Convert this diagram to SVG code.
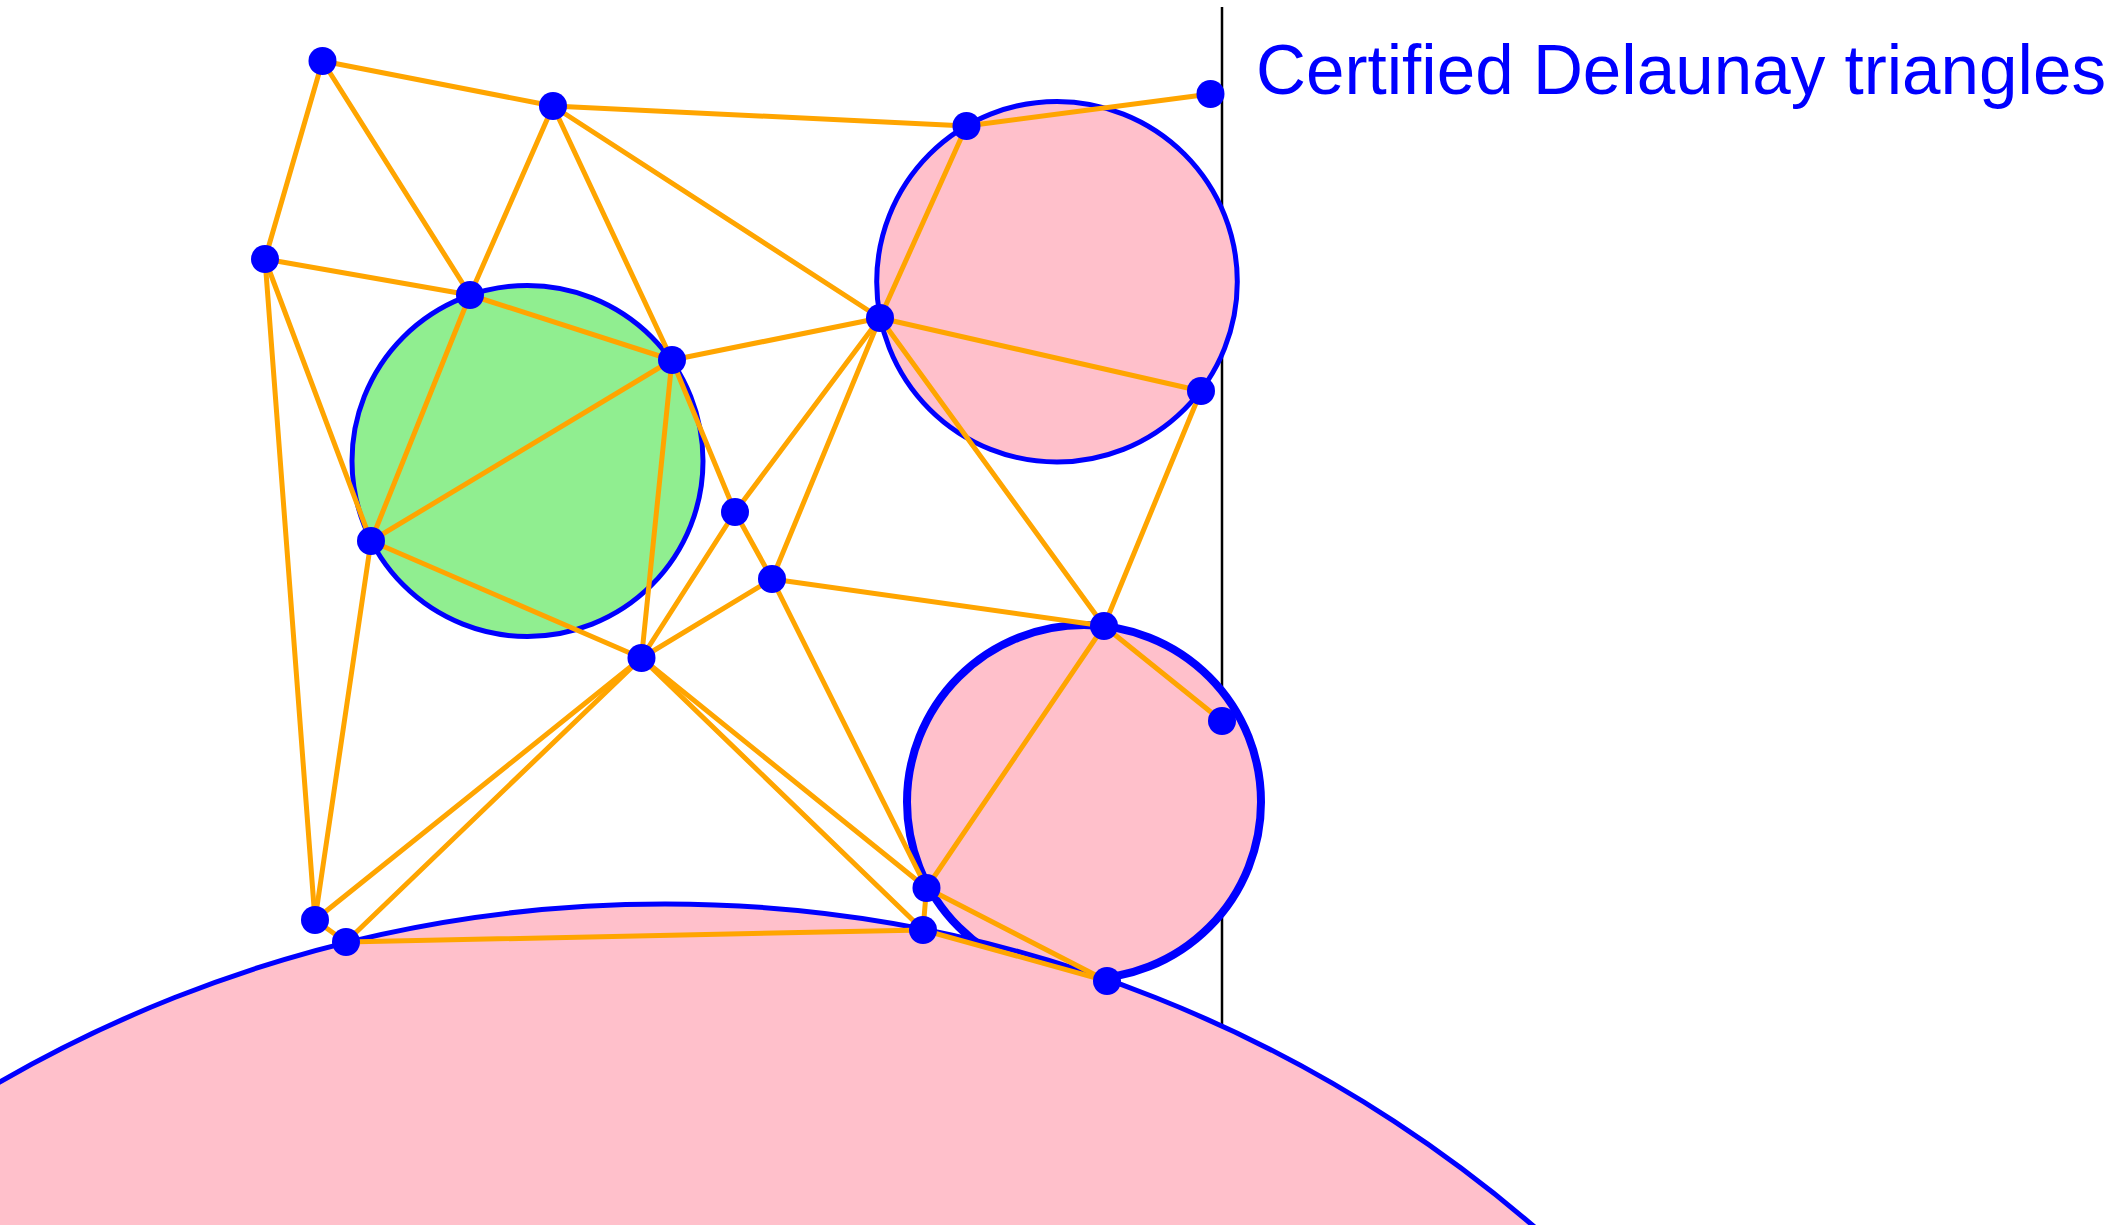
<svg xmlns="http://www.w3.org/2000/svg" width="2121" height="1225" viewBox="0 0 2121 1225">
<style>
.circ{stroke:#0000FF;stroke-width:5}
.thick{stroke-width:8}
.e line{stroke:#FFA500;stroke-width:5;stroke-linecap:round}
.pt{fill:#0000FF}
.lbl{font-family:"Liberation Sans",Arial,sans-serif;font-size:70px;fill:#0000FF}
</style>
<rect width="2121" height="1225" fill="#FFFFFF"/>
<line x1="1222" y1="7" x2="1222" y2="1225" stroke="#000000" stroke-width="2.5"/>
<g id="circles">
<circle id="green" class="circ" cx="527.5" cy="461" r="175.5" fill="#90EE90"/>
<circle id="pinkTR" class="circ" cx="1057" cy="281.7" r="180.3" fill="#FFC0CB"/>
<circle id="pinkBR" class="circ thick" cx="1084" cy="802" r="177" fill="#FFC0CB"/>
<circle id="pinkBig" class="circ" cx="665" cy="2236" r="1332" fill="#FFC0CB"/>
</g>
<g id="connectors" class="e">
<line x1="322.5" y1="61" x2="553" y2="106"/>
<line x1="322.5" y1="61" x2="265" y2="259"/>
<line x1="322.5" y1="61" x2="470" y2="295"/>
<line x1="553" y1="106" x2="470" y2="295"/>
<line x1="553" y1="106" x2="672" y2="360"/>
<line x1="553" y1="106" x2="880" y2="318"/>
<line x1="553" y1="106" x2="966.5" y2="126"/>
<line x1="966.5" y1="126" x2="1210.5" y2="94"/>
<line x1="966.5" y1="126" x2="880" y2="318"/>
<line x1="265" y1="259" x2="470" y2="295"/>
<line x1="265" y1="259" x2="371" y2="541"/>
<line x1="265" y1="259" x2="315" y2="920"/>
<line x1="470" y1="295" x2="672" y2="360"/>
<line x1="470" y1="295" x2="371" y2="541"/>
<line x1="672" y1="360" x2="880" y2="318"/>
<line x1="672" y1="360" x2="371" y2="541"/>
<line x1="672" y1="360" x2="641.5" y2="658"/>
<line x1="672" y1="360" x2="735" y2="512"/>
<line x1="880" y1="318" x2="1201" y2="391"/>
<line x1="880" y1="318" x2="735" y2="512"/>
<line x1="880" y1="318" x2="772" y2="579"/>
<line x1="880" y1="318" x2="1104" y2="626"/>
<line x1="1201" y1="391" x2="1104" y2="626"/>
<line x1="371" y1="541" x2="641.5" y2="658"/>
<line x1="371" y1="541" x2="315" y2="920"/>
<line x1="735" y1="512" x2="772" y2="579"/>
<line x1="735" y1="512" x2="641.5" y2="658"/>
<line x1="772" y1="579" x2="641.5" y2="658"/>
<line x1="772" y1="579" x2="1104" y2="626"/>
<line x1="772" y1="579" x2="926.5" y2="888"/>
<line x1="641.5" y1="658" x2="315" y2="920"/>
<line x1="641.5" y1="658" x2="346" y2="942"/>
<line x1="641.5" y1="658" x2="926.5" y2="888"/>
<line x1="641.5" y1="658" x2="923" y2="930"/>
<line x1="1104" y1="626" x2="1222" y2="721"/>
<line x1="1104" y1="626" x2="926.5" y2="888"/>
<line x1="926.5" y1="888" x2="1107" y2="981"/>
<line x1="926.5" y1="888" x2="923" y2="930"/>
<line x1="923" y1="930" x2="1107" y2="981"/>
<line x1="346" y1="942" x2="923" y2="930"/>
<line x1="315" y1="920" x2="346" y2="942"/>
</g>
<g id="nodeA"><circle class="pt" cx="322.5" cy="61" r="14"/></g>
<g id="nodeB"><circle class="pt" cx="553" cy="106" r="14"/></g>
<g id="nodeC"><circle class="pt" cx="265" cy="259" r="14"/></g>
<g id="nodeD"><circle class="pt" cx="470" cy="295" r="14"/></g>
<g id="nodeE"><circle class="pt" cx="672" cy="360" r="14"/></g>
<g id="nodeF"><circle class="pt" cx="966.5" cy="126" r="14"/></g>
<g id="nodeG"><circle class="pt" cx="1210.5" cy="94" r="14"/></g>
<g id="nodeH"><circle class="pt" cx="880" cy="318" r="14"/></g>
<g id="nodeI"><circle class="pt" cx="1201" cy="391" r="14"/></g>
<g id="nodeJ"><circle class="pt" cx="371" cy="541" r="14"/></g>
<g id="nodeK"><circle class="pt" cx="735" cy="512" r="14"/></g>
<g id="nodeL"><circle class="pt" cx="772" cy="579" r="14"/></g>
<g id="nodeM"><circle class="pt" cx="641.5" cy="658" r="14"/></g>
<g id="nodeN"><circle class="pt" cx="1104" cy="626" r="14"/></g>
<g id="nodeO"><circle class="pt" cx="1222" cy="721" r="14"/></g>
<g id="nodeP"><circle class="pt" cx="926.5" cy="888" r="14"/></g>
<g id="nodeQ"><circle class="pt" cx="923" cy="930" r="14"/></g>
<g id="nodeR"><circle class="pt" cx="1107" cy="981" r="14"/></g>
<g id="nodeS"><circle class="pt" cx="315" cy="920" r="14"/></g>
<g id="nodeT"><circle class="pt" cx="346" cy="942" r="14"/></g>
<g id="label"><text class="lbl" x="1256" y="94" textLength="850" lengthAdjust="spacingAndGlyphs">Certified Delaunay triangles</text></g>
</svg>
